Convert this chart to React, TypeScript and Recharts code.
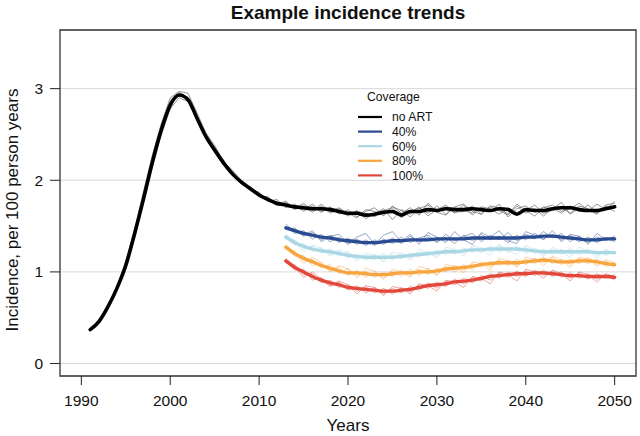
import React from "react";
import {
  LineChart,
  Line,
  XAxis,
  YAxis,
  CartesianGrid,
  ReferenceArea,
  Legend,
} from "recharts";

// years 1991..2050, projections under ART start in 2013
const years = Array.from({ length: 60 }, (_, i) => 1991 + i);
const projStart = 2013;

const noArt = [
  0.37, 0.46, 0.62, 0.82, 1.07, 1.42, 1.80, 2.20, 2.55, 2.82,
  2.93, 2.88, 2.68, 2.48, 2.33, 2.19, 2.07, 1.98, 1.91, 1.84,
  1.79, 1.75, 1.73, 1.71, 1.70, 1.69, 1.69, 1.68, 1.66, 1.64,
  1.64, 1.62, 1.63, 1.65, 1.66, 1.62, 1.66, 1.66, 1.68, 1.67,
  1.69, 1.68, 1.68, 1.69, 1.68, 1.67, 1.69, 1.68, 1.63, 1.68,
  1.67, 1.67, 1.69, 1.70, 1.70, 1.68, 1.67, 1.67, 1.69, 1.71,
];

// individual simulation runs, no ART
const grey1 = [
  0.36, 0.47, 0.63, 0.85, 1.10, 1.46, 1.85, 2.25, 2.60, 2.87,
  2.96, 2.90, 2.70, 2.50, 2.36, 2.22, 2.05, 1.99, 1.90, 1.87,
  1.77, 1.79, 1.70, 1.74, 1.66, 1.72, 1.65, 1.71, 1.63, 1.68,
  1.60, 1.66, 1.70, 1.61, 1.72, 1.64, 1.70, 1.62, 1.75, 1.66,
  1.71, 1.64, 1.73, 1.62, 1.70, 1.66, 1.74, 1.60, 1.69, 1.72,
  1.65, 1.71, 1.68, 1.76, 1.63, 1.70, 1.66, 1.74, 1.68, 1.77,
];
const grey2 = [
  0.35, 0.45, 0.60, 0.80, 1.04, 1.38, 1.76, 2.15, 2.50, 2.78,
  2.90, 2.86, 2.66, 2.47, 2.30, 2.16, 2.09, 1.96, 1.93, 1.82,
  1.81, 1.72, 1.76, 1.68, 1.73, 1.65, 1.72, 1.64, 1.69, 1.62,
  1.67, 1.58, 1.64, 1.69, 1.57, 1.68, 1.63, 1.71, 1.61, 1.68,
  1.73, 1.65, 1.66, 1.72, 1.63, 1.71, 1.67, 1.62, 1.72, 1.64,
  1.69, 1.61, 1.70, 1.64, 1.72, 1.66, 1.73, 1.65, 1.71, 1.66,
];
const grey3 = [
  0.38, 0.46, 0.62, 0.83, 1.08, 1.44, 1.82, 2.20, 2.56, 2.83,
  2.92, 2.91, 2.69, 2.46, 2.34, 2.18, 2.08, 1.97, 1.89, 1.85,
  1.78, 1.76, 1.72, 1.70, 1.68, 1.74, 1.66, 1.70, 1.67, 1.61,
  1.66, 1.64, 1.60, 1.67, 1.70, 1.59, 1.66, 1.70, 1.64, 1.72,
  1.63, 1.70, 1.67, 1.64, 1.71, 1.69, 1.63, 1.70, 1.65, 1.67,
  1.73, 1.64, 1.67, 1.70, 1.64, 1.72, 1.69, 1.63, 1.72, 1.69,
];
const grey4 = [
  0.37, 0.48, 0.64, 0.84, 1.12, 1.47, 1.88, 2.28, 2.62, 2.90,
  2.97, 2.95, 2.74, 2.52, 2.38, 2.20, 2.11, 2.00, 1.92, 1.83,
  1.82, 1.74, 1.77, 1.69, 1.75, 1.67, 1.74, 1.66, 1.70, 1.64,
  1.59, 1.68, 1.66, 1.62, 1.71, 1.67, 1.60, 1.69, 1.73, 1.65,
  1.62, 1.71, 1.74, 1.66, 1.63, 1.72, 1.70, 1.63, 1.74, 1.67,
  1.61, 1.70, 1.73, 1.66, 1.69, 1.75, 1.67, 1.64, 1.73, 1.75,
];

// coverage scenarios, 2013..2050
const cov40 = [
  1.48, 1.45, 1.42, 1.40, 1.38, 1.37, 1.35, 1.34, 1.33, 1.32,
  1.32, 1.33, 1.34, 1.34, 1.35, 1.35, 1.35, 1.36, 1.36, 1.36,
  1.36, 1.37, 1.37, 1.37, 1.37, 1.37, 1.37, 1.38, 1.38, 1.39,
  1.39, 1.38, 1.37, 1.36, 1.35, 1.35, 1.36, 1.36,
];
const cov40a = [
  1.50, 1.42, 1.45, 1.36, 1.41, 1.33, 1.38, 1.30, 1.36, 1.29,
  1.35, 1.30, 1.37, 1.31, 1.39, 1.33, 1.38, 1.32, 1.41, 1.34,
  1.39, 1.42, 1.33, 1.40, 1.35, 1.43, 1.34, 1.41, 1.36, 1.44,
  1.37, 1.42, 1.33, 1.39, 1.32, 1.38, 1.34, 1.39,
];
const cov40b = [
  1.46, 1.48, 1.39, 1.43, 1.35, 1.40, 1.32, 1.37, 1.30, 1.35,
  1.29, 1.36, 1.31, 1.38, 1.32, 1.37, 1.40, 1.33, 1.38, 1.31,
  1.40, 1.34, 1.41, 1.35, 1.39, 1.32, 1.40, 1.35, 1.42, 1.36,
  1.41, 1.35, 1.40, 1.33, 1.38, 1.32, 1.37, 1.33,
];
const cov40c = [
  1.52, 1.44, 1.40, 1.45, 1.33, 1.39, 1.41, 1.31, 1.38, 1.42,
  1.30, 1.40, 1.44, 1.33, 1.41, 1.30, 1.43, 1.38, 1.32, 1.44,
  1.35, 1.30, 1.43, 1.38, 1.45, 1.34, 1.31, 1.44, 1.40, 1.35,
  1.45, 1.33, 1.41, 1.39, 1.30, 1.42, 1.35, 1.38,
];

const cov60 = [
  1.38, 1.32, 1.28, 1.25, 1.23, 1.22, 1.20, 1.18, 1.17, 1.16,
  1.16, 1.16, 1.16, 1.17, 1.18, 1.19, 1.20, 1.21, 1.22, 1.22,
  1.23, 1.24, 1.24, 1.25, 1.25, 1.25, 1.25, 1.24, 1.23, 1.22,
  1.22, 1.22, 1.22, 1.22, 1.22, 1.21, 1.21, 1.21,
];
const cov60a = [
  1.40, 1.29, 1.31, 1.22, 1.26, 1.19, 1.23, 1.15, 1.20, 1.13,
  1.19, 1.12, 1.20, 1.14, 1.21, 1.16, 1.23, 1.17, 1.25, 1.19,
  1.26, 1.21, 1.27, 1.22, 1.29, 1.21, 1.28, 1.20, 1.26, 1.19,
  1.25, 1.19, 1.26, 1.18, 1.25, 1.18, 1.24, 1.19,
];
const cov60b = [
  1.36, 1.35, 1.25, 1.28, 1.21, 1.25, 1.17, 1.22, 1.14, 1.19,
  1.13, 1.20, 1.13, 1.21, 1.15, 1.22, 1.17, 1.24, 1.19, 1.25,
  1.20, 1.27, 1.21, 1.28, 1.22, 1.27, 1.23, 1.27, 1.20, 1.25,
  1.19, 1.25, 1.19, 1.24, 1.20, 1.23, 1.18, 1.23,
];
const cov60c = [
  1.41, 1.34, 1.22, 1.29, 1.26, 1.17, 1.24, 1.21, 1.12, 1.21,
  1.18, 1.11, 1.22, 1.19, 1.13, 1.25, 1.21, 1.15, 1.27, 1.24,
  1.17, 1.29, 1.25, 1.18, 1.30, 1.23, 1.19, 1.29, 1.24, 1.17,
  1.27, 1.22, 1.16, 1.27, 1.23, 1.15, 1.25, 1.20,
];

const cov80 = [
  1.27, 1.20, 1.15, 1.11, 1.07, 1.04, 1.01, 0.99, 0.99, 0.98,
  0.97, 0.97, 0.98, 0.99, 0.99, 1.00, 1.00, 1.01, 1.03, 1.04,
  1.05, 1.06, 1.08, 1.09, 1.10, 1.10, 1.10, 1.11, 1.12, 1.13,
  1.12, 1.11, 1.11, 1.12, 1.12, 1.11, 1.09, 1.08,
];
const cov80a = [
  1.29, 1.17, 1.18, 1.07, 1.10, 1.01, 1.05, 0.96, 1.02, 0.94,
  1.00, 0.93, 1.01, 0.95, 1.03, 0.96, 1.04, 0.97, 1.06, 1.00,
  1.08, 1.02, 1.11, 1.05, 1.13, 1.07, 1.14, 1.08, 1.15, 1.10,
  1.16, 1.08, 1.14, 1.09, 1.16, 1.08, 1.12, 1.05,
];
const cov80b = [
  1.25, 1.23, 1.12, 1.14, 1.04, 1.08, 0.98, 1.04, 0.96, 1.01,
  0.94, 1.00, 0.95, 1.02, 0.96, 1.03, 0.97, 1.04, 1.00, 1.07,
  1.02, 1.09, 1.05, 1.12, 1.07, 1.13, 1.07, 1.14, 1.09, 1.16,
  1.09, 1.14, 1.08, 1.15, 1.09, 1.14, 1.06, 1.11,
];
const cov80c = [
  1.30, 1.21, 1.09, 1.16, 1.10, 1.00, 1.07, 1.03, 0.93, 1.04,
  1.01, 0.92, 1.03, 1.00, 0.94, 1.06, 1.03, 0.96, 1.08, 1.06,
  0.99, 1.11, 1.09, 1.02, 1.15, 1.12, 1.05, 1.16, 1.14, 1.07,
  1.17, 1.13, 1.05, 1.16, 1.14, 1.06, 1.13, 1.10,
];

const cov100 = [
  1.12, 1.05, 1.00, 0.95, 0.91, 0.88, 0.86, 0.83, 0.82, 0.81,
  0.80, 0.79, 0.79, 0.80, 0.81, 0.83, 0.85, 0.86, 0.87, 0.89,
  0.90, 0.91, 0.93, 0.95, 0.96, 0.97, 0.98, 0.98, 0.99, 0.99,
  0.98, 0.97, 0.96, 0.96, 0.95, 0.95, 0.95, 0.94,
];
const cov100a = [
  1.14, 1.02, 1.03, 0.91, 0.94, 0.85, 0.89, 0.80, 0.85, 0.77,
  0.83, 0.76, 0.82, 0.77, 0.84, 0.80, 0.88, 0.82, 0.90, 0.86,
  0.93, 0.88, 0.96, 0.91, 0.99, 0.94, 1.01, 0.95, 1.02, 0.96,
  1.01, 0.94, 0.99, 0.93, 0.98, 0.92, 0.97, 0.91,
];
const cov100b = [
  1.10, 1.08, 0.97, 0.98, 0.88, 0.91, 0.83, 0.86, 0.79, 0.84,
  0.77, 0.82, 0.76, 0.83, 0.78, 0.86, 0.82, 0.89, 0.84, 0.92,
  0.87, 0.94, 0.90, 0.98, 0.93, 1.00, 0.95, 1.01, 0.96, 1.02,
  0.95, 1.00, 0.93, 0.99, 0.92, 0.98, 0.93, 0.97,
];
const cov100c = [
  1.15, 1.06, 0.94, 1.00, 0.92, 0.84, 0.90, 0.86, 0.76, 0.85,
  0.83, 0.74, 0.84, 0.82, 0.76, 0.87, 0.85, 0.79, 0.91, 0.89,
  0.83, 0.95, 0.93, 0.87, 1.00, 0.97, 0.90, 1.03, 1.00, 0.93,
  1.02, 0.98, 0.90, 1.00, 0.97, 0.89, 0.98, 0.95,
];

const xTicks = [1990, 2000, 2010, 2020, 2030, 2040, 2050];
const yTicks = [0, 1, 2, 3];

const FONT = "'Liberation Sans', Arial, Helvetica, sans-serif";
const BLUE = "#294b91";
const LIGHTBLUE = "#a9d7e4";
const ORANGE = "#f8a43f";
const RED = "#e1483b";

const greyRuns = [grey1, grey2, grey3, grey4];

const scenarios = [
  { key: "c40", label: "40%", color: BLUE, mean: cov40, runs: [cov40a, cov40b, cov40c] },
  { key: "c60", label: "60%", color: LIGHTBLUE, mean: cov60, runs: [cov60a, cov60b, cov60c] },
  { key: "c80", label: "80%", color: ORANGE, mean: cov80, runs: [cov80a, cov80b, cov80c] },
  { key: "c100", label: "100%", color: RED, mean: cov100, runs: [cov100a, cov100b, cov100c] },
];

const rows = years.map((year, i) => {
  const row: Record<string, number | null> = { year, noArt: noArt[i] };
  greyRuns.forEach((g, k) => {
    row[`g${k}`] = g[i];
  });
  const j = year - projStart;
  scenarios.forEach((s) => {
    row[s.key] = j >= 0 ? s.mean[j] : null;
    s.runs.forEach((r, k) => {
      row[`${s.key}_${k}`] = j >= 0 ? r[j] : null;
    });
  });
  return row;
});

const legendItems = [{ label: "no ART", color: "#000" }].concat(
  scenarios.map((s) => ({ label: s.label, color: s.color }))
);

function CoverageLegend() {
  return (
    <svg width={110} height={100} style={{ display: "block" }}>
      <text x={17} y={12.7} fontSize={12.2} fontFamily={FONT} fill="#111">
        Coverage
      </text>
      {legendItems.map((it, i) => {
        const cy = 29 + i * 14.6;
        return (
          <g key={it.label}>
            <line x1={8} x2={32} y1={cy} y2={cy} stroke={it.color} strokeWidth={2.2} />
            <text x={42} y={cy + 4.3} fontSize={12.2} fontFamily={FONT} fill="#111">
              {it.label}
            </text>
          </g>
        );
      })}
    </svg>
  );
}

export default function App() {
  return (
    <div
      style={{
        position: "absolute",
        left: 0,
        top: 0,
        width: 640,
        height: 436,
        background: "#fff",
        fontFamily: FONT,
      }}
    >
      <LineChart
        width={640}
        height={436}
        data={rows}
        margin={{ top: 30, right: 4, bottom: 0, left: 0 }}
      >
        <CartesianGrid vertical={false} stroke="#d9d9d9" strokeWidth={1} />
        <XAxis
          dataKey="year"
          type="number"
          domain={[1987.6, 2052.4]}
          ticks={xTicks}
          allowDataOverflow
          height={60}
          axisLine={false}
          tickSize={9}
          tickMargin={10}
          tickLine={{ stroke: "#222" }}
          tick={{ fill: "#111", fontSize: 15.5, fontFamily: FONT }}
          interval={0}
        />
        <YAxis
          type="number"
          domain={[-0.136, 3.64]}
          ticks={yTicks}
          allowDataOverflow
          width={60}
          axisLine={false}
          tickSize={10}
          tickMargin={7}
          tickLine={{ stroke: "#222" }}
          tick={{ fill: "#111", fontSize: 15.5, fontFamily: FONT }}
          interval={0}
        />
        <ReferenceArea
          x1={1987.6}
          x2={2052.4}
          y1={-0.136}
          y2={3.64}
          fill="none"
          fillOpacity={0}
          stroke="#333"
          strokeWidth={1.3}
          ifOverflow="visible"
        />
        <Legend
          layout="vertical"
          align="center"
          verticalAlign="middle"
          wrapperStyle={{ left: 350, top: 88, width: 110, height: 100 }}
          content={() => <CoverageLegend />}
        />
        {greyRuns.map((_, k) => (
          <Line
            key={`g${k}`}
            dataKey={`g${k}`}
            type="linear"
            stroke="#6e6e6e"
            strokeWidth={0.9}
            strokeOpacity={0.8}
            dot={false}
            isAnimationActive={false}
            legendType="none"
          />
        ))}
        <Line
          dataKey="noArt"
          type="monotone"
          stroke="#000"
          strokeWidth={3.6}
          dot={false}
          strokeLinecap="round"
          strokeLinejoin="round"
          isAnimationActive={false}
        />
        {scenarios.map((s) =>
          s.runs.map((_, k) => (
            <Line
              key={`${s.key}_${k}`}
              dataKey={`${s.key}_${k}`}
              type="linear"
              stroke={s.color}
              strokeWidth={0.9}
              strokeOpacity={0.55}
              dot={false}
              isAnimationActive={false}
              legendType="none"
            />
          ))
        )}
        {scenarios.map((s) => (
          <Line
            key={s.key}
            dataKey={s.key}
            type="monotone"
            stroke={s.color}
            strokeWidth={3.3}
            dot={false}
            strokeLinecap="round"
            isAnimationActive={false}
          />
        ))}
      </LineChart>
      <svg
        width={640}
        height={436}
        style={{ position: "absolute", left: 0, top: 0, pointerEvents: "none" }}
      >
        <text
          x={348}
          y={19}
          textAnchor="middle"
          fontSize={19}
          fontWeight="bold"
          fontFamily={FONT}
          fill="#111"
        >
          Example incidence trends
        </text>
        <text x={348} y={431} textAnchor="middle" fontSize={17} fontFamily={FONT} fill="#111">
          Years
        </text>
        <text
          transform="translate(18, 210) rotate(-90)"
          textAnchor="middle"
          fontSize={17}
          fontFamily={FONT}
          fill="#111"
        >
          Incidence, per 100 person years
        </text>
      </svg>
    </div>
  );
}
